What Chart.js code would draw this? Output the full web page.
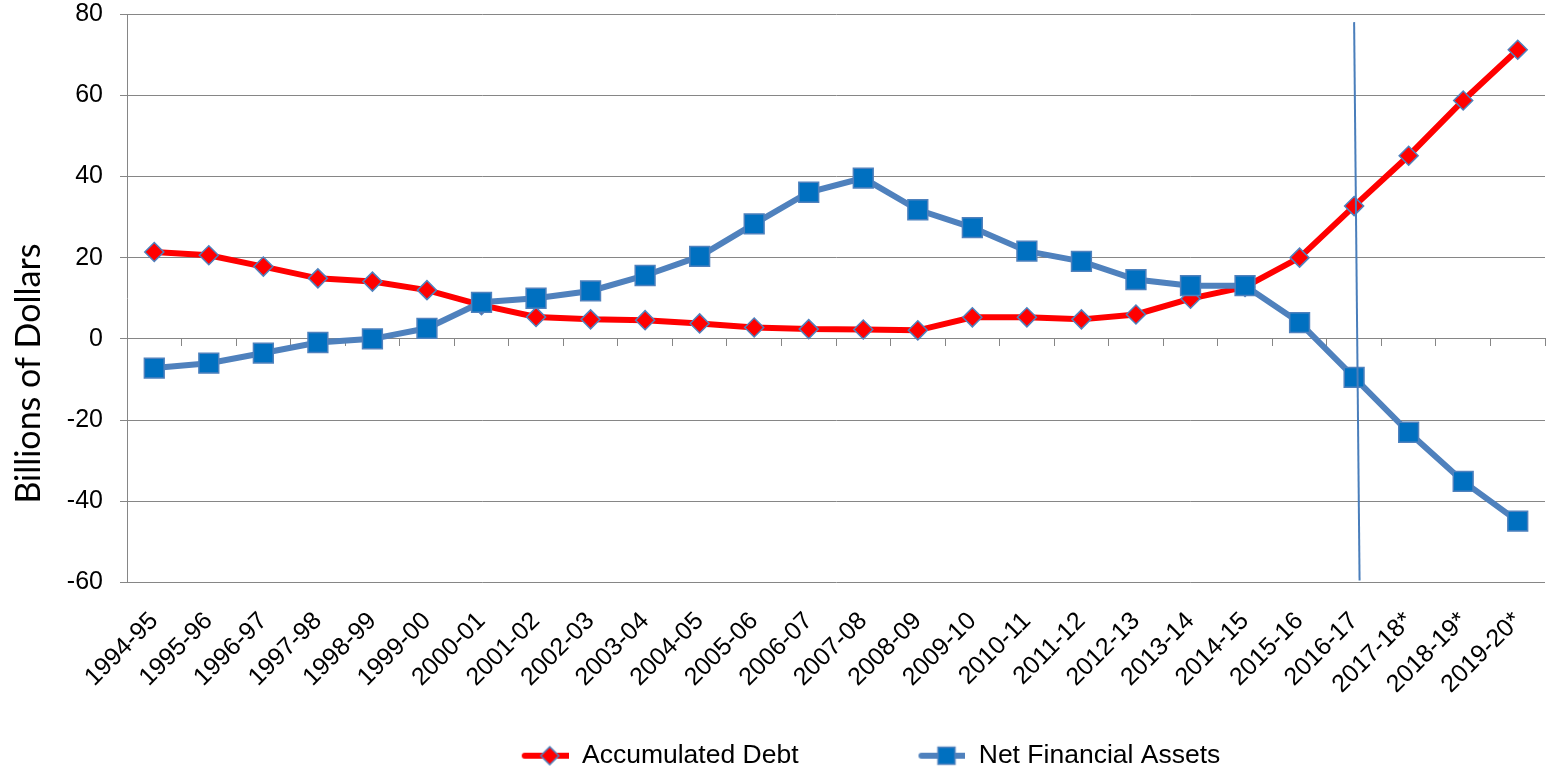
<!DOCTYPE html>
<html>
<head>
<meta charset="utf-8">
<title>Accumulated Debt and Net Financial Assets</title>
<script src="https://cdn.jsdelivr.net/npm/chart.js@4/dist/chart.umd.min.js"></script>
<style>
    body { margin: 0; background: #fff; }
    canvas { display: block; }
</style>
</head>
<body>
<canvas id="myChart" width="1549" height="779"></canvas>
<script>
// data (billions of dollars)
const categories = ['1994-95', '1995-96', '1996-97', '1997-98', '1998-99', '1999-00', '2000-01', '2001-02',
    '2002-03', '2003-04', '2004-05', '2005-06', '2006-07', '2007-08', '2008-09', '2009-10', '2010-11',
    '2011-12', '2012-13', '2013-14', '2014-15', '2015-16', '2016-17', '2017-18*', '2018-19*', '2019-20*'];
const accumulatedDebt = [21.4, 20.6, 17.8, 14.9, 14.1, 12.0, 8.3, 5.4, 4.8, 4.6, 3.8, 2.8, 2.4, 2.3, 2.1,
    5.3, 5.3, 4.8, 6.0, 9.9, 12.8, 20.0, 32.7, 45.1, 58.7, 71.2];
const netFinancialAssets = [-7.2, -6.0, -3.5, -0.9, 0.0, 2.6, 9.0, 10.0, 11.8, 15.6, 20.3, 28.3, 36.1, 39.6,
    31.8, 27.4, 21.6, 19.1, 14.6, 13.1, 13.1, 4.0, -9.5, -23.0, -35.1, -44.9];
const yTicks = [-60, -40, -20, 0, 20, 40, 60, 80];
const yTitle = 'Billions of Dollars';
const seriesNames = ['Accumulated Debt', 'Net Financial Assets'];

// the hand drawn divider near 2016-17 (category index, value)
const dividerX = [22, 22.1];
const dividerY = [78, -59.5];

const RED = '#ff0000';
const BLUE_LINE = '#4f81bd';
const BLUE_FILL = '#0070c0';
const GRID = '#868686';
const ARIAL = 'Liberation Sans, Arial, sans-serif';

// legend icon: line with a marker on it, transparent margin on the left
function makeLegendIcon(lineColor, marker, fill, border) {
    const margin = 70, w = 56, h = 26;
    const c = document.createElement('canvas');
    c.width = 117;
    c.height = h;
    const g = c.getContext('2d');
    g.strokeStyle = lineColor;
    g.lineWidth = 6;
    g.lineCap = 'round';
    g.beginPath();
    g.moveTo(margin + 3, h / 2);
    g.lineTo(margin + w - 3, h / 2);
    g.stroke();
    const cx = margin + w / 2, cy = h / 2;
    g.fillStyle = fill;
    g.strokeStyle = border;
    g.lineWidth = 1.5;
    g.beginPath();
    if (marker === 'diamond') {
        g.moveTo(cx, cy - 9);
        g.lineTo(cx + 9, cy);
        g.lineTo(cx, cy + 9);
        g.lineTo(cx - 9, cy);
        g.closePath();
    } else {
        g.rect(cx - 8.5, cy - 8.5, 17, 17);
    }
    g.fill();
    g.stroke();
    return c;
}

const redIcon = makeLegendIcon(RED, 'diamond', RED, BLUE_LINE);
const blueIcon = makeLegendIcon(BLUE_LINE, 'square', BLUE_FILL, BLUE_LINE);

const yTitlePlugin = {
    id: 'yTitle',
    afterDraw(chart) {
        const ctx = chart.ctx;
        const area = chart.chartArea;
        const cy = area.top + (chart.legend.top - area.top) * 0.53;
        ctx.save();
        ctx.translate(29, cy);
        ctx.rotate(-Math.PI / 2);
        ctx.font = '34px Lato, "Open Sans", sans-serif';
        ctx.fillStyle = '#000';
        ctx.textAlign = 'center';
        ctx.textBaseline = 'middle';
        ctx.fillText(yTitle, 0, 0);
        ctx.restore();
    }
};

const dividerPlugin = {
    id: 'divider',
    afterDatasetsDraw(chart) {
        const ctx = chart.ctx;
        const xs = chart.scales.x, ys = chart.scales.y;
        ctx.save();
        ctx.strokeStyle = '#4a7ebb';
        ctx.lineWidth = 2;
        ctx.beginPath();
        ctx.moveTo(xs.getPixelForValue(dividerX[0]), ys.getPixelForValue(dividerY[0]));
        ctx.lineTo(xs.getPixelForValue(dividerX[1]), ys.getPixelForValue(dividerY[1]));
        ctx.stroke();
        ctx.restore();
    }
};

const ctx = document.getElementById('myChart').getContext('2d');
const myChart = new Chart(ctx, {
    type: 'line',
    data: {
        labels: categories,
        datasets: [{
            label: seriesNames[0],
            data: accumulatedDebt,
            borderColor: RED,
            borderWidth: 6,
            pointStyle: 'rectRot',
            pointRadius: 9.5,
            pointBackgroundColor: RED,
            pointBorderColor: BLUE_LINE,
            pointBorderWidth: 1.5,
            tension: 0,
            clip: false,
            order: 1
        },
        {
            label: seriesNames[1],
            data: netFinancialAssets,
            borderColor: BLUE_LINE,
            borderWidth: 6,
            pointStyle: 'rect',
            pointRadius: 14,
            pointBackgroundColor: BLUE_FILL,
            pointBorderColor: BLUE_LINE,
            pointBorderWidth: 1.5,
            tension: 0,
            clip: false,
            order: 0
        }]
    },
    options: {
        responsive: false,
        devicePixelRatio: 1,
        animation: false,
        layout: { autoPadding: false, padding: { top: 0, right: 4, left: 0, bottom: 0 } },
        plugins: {
            tooltip: { enabled: false },
            legend: {
                position: 'bottom',
                fullSize: false,
                labels: {
                    usePointStyle: true,
                    pointStyleWidth: 117,
                    padding: 50,
                    color: '#000',
                    font: { family: ARIAL, size: 26.5 },
                    generateLabels: () => [
                        { text: seriesNames[0], pointStyle: redIcon, datasetIndex: 0, lineWidth: 0, fillStyle: RED, strokeStyle: RED },
                        { text: seriesNames[1], pointStyle: blueIcon, datasetIndex: 1, lineWidth: 0, fillStyle: BLUE_FILL, strokeStyle: BLUE_LINE }
                    ]
                }
            }
        },
        scales: {
            x: {
                type: 'category',
                offset: true,
                grid: { display: false },
                border: { display: false },
                afterFit: (scale) => { scale.height = 110; scale.paddingRight = 0; },
                ticks: {
                    autoSkip: false,
                    minRotation: 45,
                    maxRotation: 45,
                    color: '#000',
                    font: { family: ARIAL, size: 25 },
                    padding: 16
                }
            },
            xZero: {
                type: 'category',
                axis: 'x',
                position: { y: 0 },
                offset: true,
                grid: { offset: true, drawOnChartArea: false, tickLength: 7, color: GRID },
                border: { color: GRID, width: 1 },
                ticks: { display: false }
            },
            y: {
                min: yTicks[0],
                max: yTicks[yTicks.length - 1],
                afterBuildTicks: (scale) => { scale.ticks = yTicks.map(v => ({ value: v })); },
                afterFit: (scale) => {
                    scale.width = 127;
                    scale.paddingTop = 14;
                    scale.paddingBottom = 0;
                },
                grid: { color: GRID, tickLength: 7 },
                border: { color: GRID },
                ticks: { color: '#000', font: { family: ARIAL, size: 25 }, padding: 17 }
            }
        }
    },
    plugins: [yTitlePlugin, dividerPlugin]
});
</script>
</body>
</html>
